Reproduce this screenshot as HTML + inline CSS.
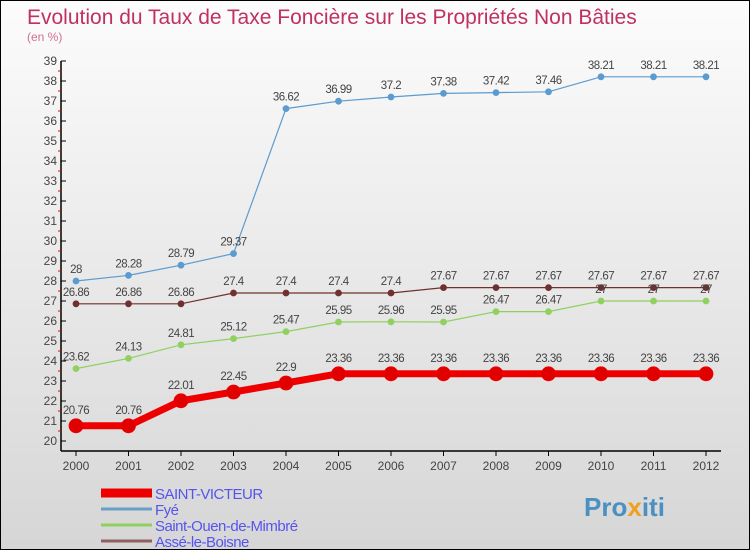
<!DOCTYPE html>
<html><head><meta charset="utf-8"><style>
body{margin:0}
#c{width:750px;height:550px;position:relative;overflow:hidden;box-sizing:border-box;border:1px solid #000;background:linear-gradient(#fcfcfc,#d6d6d6);font-family:"Liberation Sans",sans-serif}
</style></head><body>
<div id="c">
<svg id="s" width="750" height="550" style="position:absolute;left:0;top:0">
<text x="26" y="23" font-size="21" fill="#c03060">Evolution du Taux de Taxe Foncière sur les Propriétés Non Bâties</text>
<text x="26" y="40" font-size="12" fill="#d07090">(en %)</text>
<text x="583" y="515" font-size="26" font-weight="bold" fill="#4a90c0">Pro<tspan fill="#f0a020">x</tspan>iti</text>
</svg>
</div>
<script>
const years=[2000,2001,2002,2003,2004,2005,2006,2007,2008,2009,2010,2011,2012];
const saintVicteur=[20.76,20.76,22.01,22.45,22.9,23.36,23.36,23.36,23.36,23.36,23.36,23.36,23.36];
const fye=[28,28.28,28.79,29.37,36.62,36.99,37.2,37.38,37.42,37.46,38.21,38.21,38.21];
const saintOuen=[23.62,24.13,24.81,25.12,25.47,25.95,25.96,25.95,26.47,26.47,27,27,27];
const asse=[26.86,26.86,26.86,27.4,27.4,27.4,27.4,27.67,27.67,27.67,27.67,27.67,27.67];
const yTicks=[20,21,22,23,24,25,26,27,28,29,30,31,32,33,34,35,36,37,38,39];
const names=["SAINT-VICTEUR","Fyé","Saint-Ouen-de-Mimbré","Assé-le-Boisne"];
const NS="http://www.w3.org/2000/svg",s=document.getElementById('s');
const X=i=>75+i*52.5, Y=v=>440-(v-20)*20;
function el(t,a,p){const e=document.createElementNS(NS,t);for(const k in a)e.setAttribute(k,a[k]);(p||s).appendChild(e);return e;}
function fmt(v){return String(v);}
const ax=el('g',{});


el('line',{x1:60,y1:60,x2:60,y2:450,stroke:'#000','stroke-width':1.5},ax);
el('line',{x1:60,y1:450,x2:720,y2:450,stroke:'#000','stroke-width':1.5},ax);
yTicks.forEach(v=>{
 el('line',{x1:60,y1:Y(v),x2:65,y2:Y(v),stroke:'#000'},ax);
 if(v<39)el('line',{x1:57,y1:Y(v+0.5),x2:60,y2:Y(v+0.5),stroke:'#e00'},ax);
 const t=el('text',{x:56,y:Y(v)+4,'font-size':12,fill:'#444','text-anchor':'end'},ax);t.textContent=v;
 
 
});
years.forEach((y,i)=>{
 el('line',{x1:X(i),y1:450,x2:X(i),y2:455,stroke:'#000'},ax);
 const t=el('text',{x:X(i),y:469,'font-size':12,fill:'#444','text-anchor':'middle'},ax);t.textContent=y;
 
 
});
function series(data,col,dot,w,r,name){
 const g=el('g',{});
 
 
 el('polyline',{points:data.map((v,i)=>X(i)+','+Y(v)).join(' '),fill:'none',stroke:col,'stroke-width':w},g);
 data.forEach((v,i)=>{
  const c=el('circle',{cx:X(i),cy:Y(v),r:r,fill:dot,stroke:col,'stroke-width':0.8},g);
  
  
  const t=el('text',{x:X(i),y:Y(v)-(r+5),'font-size':11.5,fill:'#444','text-anchor':'middle','letter-spacing':'-0.5'},g);t.textContent=fmt(v);
 });
}
series(fye,'#5b9bd0','#5b9bd0',1.2,3,'series-fye');
series(asse,'#703030','#703030',1.2,3,'series-asse');
series(saintOuen,'#90d060','#90d060',1.2,3,'series-saint-ouen');
series(saintVicteur,'#ee0000','#e00000',7,7,'series-saint-victeur');
const cols=['#ee0000','#6a9ec8','#90d060','#906060'],ws=[9,3,3,3];
names.forEach((n,i)=>{
 const y=492+i*16;
 const g=el('g',{});
 
 
 el('line',{x1:100,y1:y,x2:151,y2:y,stroke:cols[i],'stroke-width':ws[i]},g);
 const t=el('text',{x:154,y:y+6,'font-size':15,fill:'#5555ee','letter-spacing':'-0.5'},g);t.textContent=n;
});
</script>
</body></html>
